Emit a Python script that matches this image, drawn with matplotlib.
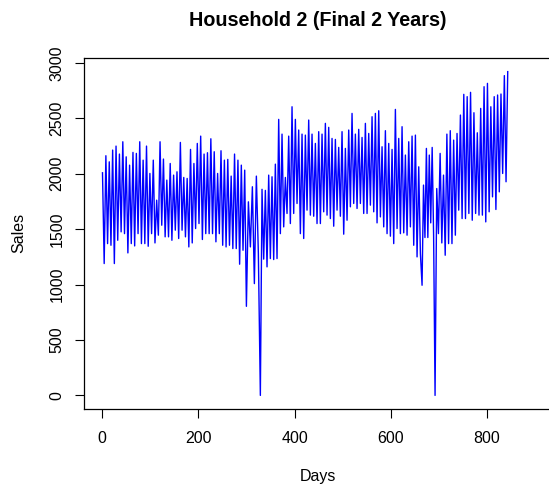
import numpy as np
import matplotlib
matplotlib.use("Agg")
import matplotlib.pyplot as plt

plt.rcParams['font.family'] = ['Liberation Sans', 'DejaVu Sans']

# weekly turning points (trough / peak), in time order
sales = [
    2009, 1190, 2163, 1370, 2108, 1355, 2214, 1190, 2250, 1400, 2178, 1476,
    2289, 1460, 2153, 1286, 2078, 1370, 2193, 1349, 2184, 1460, 2289, 1370,
    2123, 1370, 2250, 1346, 2003, 1460, 2123, 1376,
    1762, 1446, 2289, 1536, 2133, 1431, 1943, 1431, 2093, 1400, 1988, 1491,
    2018, 1416, 2283, 1491, 1967, 1431, 1958, 1340, 2220, 1376, 2093, 1506,
    2274, 1551, 2340, 1407, 2178, 1460, 2190, 1460, 2316,
    1460, 2199, 1386, 2003, 1460, 2208, 1355, 2123, 1340, 2130, 1355, 1979,
    1325, 2178, 1325, 2123, 1184, 2078, 1310, 2033, 804,
    1747, 1340, 1883, 1009, 1979, 1280, 0,
    1860, 1230, 1850, 1160, 1988, 1235, 1973, 1226, 2087, 1235, 2491, 1460,
    2358, 1521, 1967, 1642, 2340, 1551, 2605, 1642, 2491, 1732, 2395, 1460,
    2358, 1416, 2349, 1672, 2485, 1627, 2358, 1617, 2274, 1551, 2380, 1551,
    2358, 1657, 2455, 1627, 2419, 1596, 2319, 1527, 2310, 1672, 2238, 1617,
    2380, 1455, 2229, 1581, 2395, 1702, 2545, 1732, 2358, 1687, 2401, 1732,
    2328, 1642, 2455, 1642, 2364, 1717, 2515, 1657, 2545,
    1557, 2569, 1611, 2244, 1521, 2389, 1460, 2274, 1437, 2220, 1370, 2581,
    1506, 2319, 1460, 2425, 1467, 2169, 1446, 2289, 1521, 2340, 1355, 2349,
    1250, 2063, 1280, 994, 1898, 1425, 2229, 1425, 2169,
    1557, 2238, 1440, 0, 1867, 1460, 2184, 1376, 1988, 1265, 2358, 1370,
    2389, 1370, 2304, 1446, 2364, 1672, 2530, 1596, 2717, 1596, 2696, 1642,
    2735, 1581, 2551, 1642, 2370, 1627, 2590,
    1627, 2786, 1566, 2816, 1657, 2605, 1792, 2696, 1678, 2711, 1837, 2720,
    2003, 2886, 1928, 2922,
]
# days of the first point, the dips and the last point
anchor_idx = [0, 85, 92, 189, 198, len(sales) - 1]
anchor_day = [1, 300, 329, 665, 692, 843]
x_ticks = [0, 200, 400, 600, 800]
y_ticks = [0, 500, 1000, 1500, 2000, 2500, 3000]

days = np.interp(np.arange(len(sales)), anchor_idx, anchor_day)

W, H = 549, 487
fig = plt.figure(figsize=(W / 100, H / 100), dpi=100)
left, right, top, bottom = 84.3, 551, 58, 408.7
ax = fig.add_axes([left / W, (H - bottom) / H, (right - left) / W, (bottom - top) / H])

ax.plot(days, sales, color='#0000FF', lw=1.0)

ax.set_xlim(-36.8, 932.9)
ax.set_ylim(-120, 3045)
ax.set_xticks(x_ticks)
ax.set_yticks(y_ticks)
ax.tick_params(direction='out', length=6.5, width=0.8, labelsize=11.5, colors='black')
ax.tick_params(axis='x', pad=9.4)
ax.tick_params(axis='y', pad=7.8)
for lab in ax.get_yticklabels():
    lab.set_rotation(90)
    lab.set_va('center')
for s in ax.spines.values():
    s.set_linewidth(0.9)

ax.set_xlabel('Days', fontsize=11.5, labelpad=17)
ax.set_ylabel('Sales', fontsize=11.5, labelpad=17)
fig.text(0.5 * (left + right) / W, 1 - 21 / H, 'Household 2 (Final 2 Years)',
         ha='center', va='center', fontsize=14.2, fontweight='bold')

fig.savefig('out.png', dpi=100)
